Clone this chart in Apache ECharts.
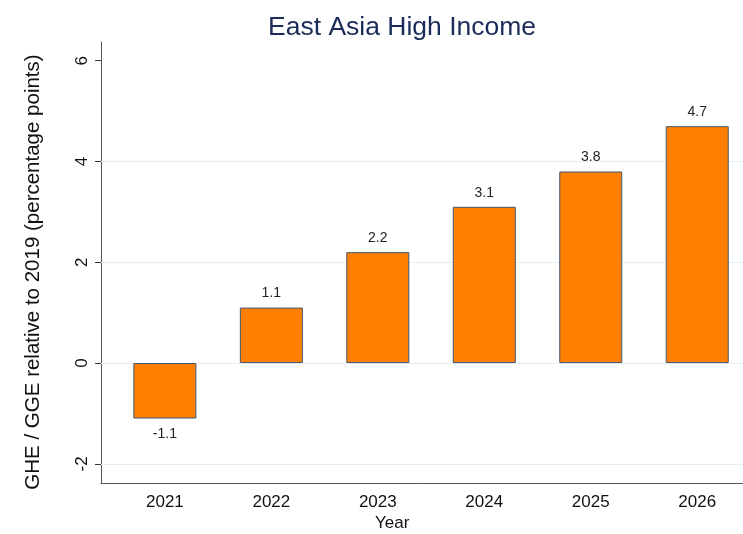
<!DOCTYPE html>
<html>
<head>
<meta charset="utf-8">
<script src="https://cdn.jsdelivr.net/npm/echarts@6/dist/echarts.min.js"></script>
<style>
    html, body { margin: 0; padding: 0; background: #fff; }
    #chart { width: 743px; height: 534px; }
</style>
</head>
<body>
<div id="chart"></div>
<script>
    // data
    const years = [2021, 2022, 2023, 2024, 2025, 2026];
    const values = [-1.1, 1.1, 2.2, 3.1, 3.8, 4.7];
    const yTicks = [-2, 0, 2, 4, 6];
    const gridValues = [-2, 0, 2, 4];

    const chart = echarts.init(document.getElementById('chart'));

    const barData = years.map((y, i) => ({
        value: [y, values[i]],
        label: values[i] < 0
            ? { position: 'bottom', distance: 9 }
            : { position: 'top', distance: 7 }
    }));

    const option = {
        animation: false,
        textStyle: { fontFamily: 'Liberation Sans, Arial, sans-serif' },
        title: {
            text: 'East Asia High Income',
            left: 263,
            top: 9,
            textStyle: {
                fontFamily: 'Liberation Sans, Arial, sans-serif',
                fontSize: 26.5,
                fontWeight: 'normal',
                color: '#1c2c5a'
            }
        },
        grid: { left: 101, right: 0, top: 42, bottom: 51 },
        xAxis: {
            type: 'value',
            min: 2020.4,
            max: 2026.43,
            splitLine: { show: false },
            axisTick: { show: false },
            axisLine: { onZero: false, lineStyle: { color: '#555', width: 1 } },
            axisLabel: {
                customValues: years,
                fontSize: 17,
                color: '#111',
                margin: 11,
                formatter: v => String(v)
            }
        },
        yAxis: {
            type: 'value',
            min: -2.38,
            max: 6.37,
            splitLine: { show: false },
            axisLine: { show: true, lineStyle: { color: '#555', width: 1 } },
            axisTick: { show: true, customValues: yTicks, length: 6, lineStyle: { color: '#333' } },
            axisLabel: {
                customValues: yTicks,
                rotate: 90,
                fontSize: 17,
                color: '#111',
                margin: 10
            }
        },
        graphic: [
            {
                type: 'text',
                left: 375,
                top: 515,
                style: { text: 'Year', fontSize: 17, fill: '#111', fontFamily: 'Liberation Sans, Arial, sans-serif' }
            },
            {
                // y axis title, rotated
                type: 'text',
                x: 33,
                y: 272,
                rotation: Math.PI / 2,
                style: {
                    text: 'GHE / GGE relative to 2019 (percentage points)',
                    fontSize: 20.5,
                    fill: '#111',
                    align: 'center',
                    verticalAlign: 'middle',
                    fontFamily: 'Liberation Sans, Arial, sans-serif'
                }
            }
        ],
        series: [
            {
                // grid lines, kept behind the bars
                type: 'line',
                data: [],
                z: 1,
                silent: true,
                markLine: {
                    silent: true,
                    symbol: 'none',
                    z: 1,
                    animation: false,
                    label: { show: false },
                    lineStyle: { color: '#e6eef1', width: 1, type: 'solid' },
                    data: gridValues.map(v => ({ yAxis: v }))
                }
            },
            {
                type: 'bar',
                data: barData,
                barWidth: 63,
                itemStyle: { color: '#ff8000', borderColor: '#3e5670', borderWidth: 1 },
                label: {
                    show: true,
                    fontSize: 14,
                    color: '#222',
                    formatter: p => p.value[1].toFixed(1)
                },
                z: 5
            }
        ]
    };

    chart.setOption(option);
</script>
</body>
</html>
